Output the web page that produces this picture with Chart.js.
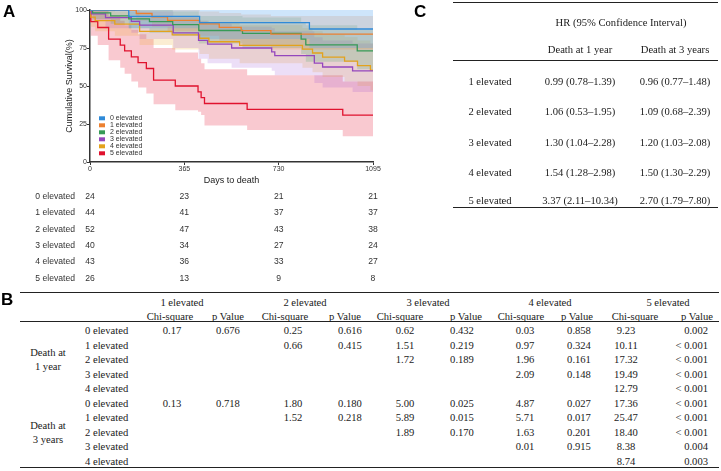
<!DOCTYPE html>
<html>
<head>
<meta charset="utf-8">
<script src="https://cdn.jsdelivr.net/npm/chart.js@4.4.1/dist/chart.umd.min.js"></script>
<style>
body{margin:0;background:#fff;width:721px;height:471px;overflow:hidden;position:relative;font-family:'Liberation Serif','Times New Roman',serif;color:#1a1a1a}
#km{position:absolute;left:0;top:0}
.t{position:absolute;font-size:10.6px;white-space:nowrap;transform:translate(-50%,-50%);line-height:1}
.t.l{transform:translate(0,-50%)}
.t.r{transform:translate(-100%,-50%)}
.rule{position:absolute;height:0;border-top:1.5px solid #222}
.panel{position:absolute;font-family:'Liberation Sans',Arial,sans-serif;font-weight:bold;font-size:17px;line-height:1;color:#000}
</style>
</head>
<body>
<canvas id="km" width="440" height="290"></canvas>
<div class="panel" style="left:3px;top:3px">A</div>
<div class="panel" style="left:1px;top:291px">B</div>
<div class="panel" style="left:414px;top:3px">C</div>
<div id="tables"></div>
<script>
// ---- panel A data ----
const groups = ['0 elevated', '1 elevated', '2 elevated', '3 elevated', '4 elevated', '5 elevated'];

const days0 = [0, 150, 424, 849, 1095];
const surv0 = [100, 95.8, 91.7, 87.5, 87.5];
const lo0 = [100, 88, 81, 75, 75];
const hi0 = [100, 100, 100, 100, 100];

const days1 = [0, 179, 240, 300, 424, 500, 585, 700, 1095];
const surv1 = [100, 97.7, 95.5, 93.2, 90.9, 88.6, 86.4, 84.1, 84.1];
const lo1 = [100, 93, 89, 86, 83, 80, 77, 74, 74];
const hi1 = [100, 100, 100, 100, 99, 98, 97, 96, 96];

const days2 = [0, 10, 80, 150, 230, 320, 421, 590, 817, 835, 1034, 1095];
const surv2 = [100, 98.1, 96.2, 94.2, 92.3, 90.4, 86.5, 84.6, 80.8, 77.0, 73.1, 73.1];
const lo2 = [100, 94, 91, 88, 85, 83, 78, 75, 71, 66, 61, 61];
const hi2 = [100, 100, 100, 100, 100, 99, 96, 95, 92, 90, 87, 87];

const days3 = [0, 5, 60, 160, 192, 322, 420, 455, 548, 703, 715, 868, 900, 1016, 1095];
const surv3 = [100, 97.5, 95, 92.5, 90, 85, 80, 77.5, 75, 72.5, 70, 65, 62.5, 60, 60];
const lo3 = [100, 93, 88, 85, 81, 75, 68, 65, 62, 60, 57, 52, 49, 46, 46];
const hi3 = [100, 100, 100, 100, 99, 96, 93, 91, 89, 88, 86, 82, 80, 78, 78];

const days4 = [0, 3, 20, 96, 192, 318, 424, 460, 579, 822, 861, 900, 985, 1035, 1085, 1095];
const surv4 = [100, 95.3, 93.0, 90.7, 86.0, 83.7, 81.4, 79.1, 76.7, 74.3, 71.7, 69.0, 66.3, 63.4, 60.5, 60.5];
const lo4 = [100, 89, 86, 83, 77, 74, 71, 68, 65, 62, 59, 56, 53, 50, 47, 47];
const hi4 = [100, 100, 100, 99, 96, 95, 93, 92, 90, 88, 86, 84, 82, 80, 78, 78];

const days5 = [0, 3, 30, 72, 117, 134, 160, 186, 218, 246, 330, 418, 430, 443, 608, 978, 1095];
const surv5 = [100, 92.3, 88.5, 80.8, 76.9, 73.1, 69.2, 65.4, 61.5, 53.8, 50.0, 46.2, 42.3, 38.5, 34.6, 30.8, 30.8];
const lo5 = [100, 83, 77, 67, 62, 58, 53, 49, 45, 38, 34, 33, 31, 24, 21, 17, 17];
const hi5 = [100, 100, 100, 96, 93, 90, 87, 84, 81, 75, 72, 68, 65, 61, 57, 53, 53];

const xTicks = [0, 365, 730, 1095];
const yTicks = [0, 25, 50, 75, 100];

const riskDays = [0, 365, 730, 1095];
const risk0 = [24, 23, 21, 21];
const risk1 = [44, 41, 37, 37];
const risk2 = [52, 47, 43, 38];
const risk3 = [40, 34, 27, 24];
const risk4 = [43, 36, 33, 27];
const risk5 = [26, 13, 9, 8];

// ---- panel B data ----
const compareGroups = ['1 elevated', '2 elevated', '3 elevated', '4 elevated', '5 elevated'];
const refRows = ['0 elevated', '1 elevated', '2 elevated', '3 elevated', '4 elevated'];
const chi1y = [
  ['0.17', '0.25', '0.62', '0.03', '9.23'],
  ['', '0.66', '1.51', '0.97', '10.11'],
  ['', '', '1.72', '1.96', '17.32'],
  ['', '', '', '2.09', '19.49'],
  ['', '', '', '', '12.79']
];
const p1y = [
  ['0.676', '0.616', '0.432', '0.858', '0.002'],
  ['', '0.415', '0.219', '0.324', '< 0.001'],
  ['', '', '0.189', '0.161', '< 0.001'],
  ['', '', '', '0.148', '< 0.001'],
  ['', '', '', '', '< 0.001']
];
const chi3y = [
  ['0.13', '1.80', '5.00', '4.87', '17.36'],
  ['', '1.52', '5.89', '5.71', '25.47'],
  ['', '', '1.89', '1.63', '18.40'],
  ['', '', '', '0.01', '8.38'],
  ['', '', '', '', '8.74']
];
const p3y = [
  ['0.718', '0.180', '0.025', '0.027', '< 0.001'],
  ['', '0.218', '0.015', '0.017', '< 0.001'],
  ['', '', '0.170', '0.201', '< 0.001'],
  ['', '', '', '0.915', '0.004'],
  ['', '', '', '', '0.003']
];

// ---- panel C data ----
const hrRows = ['1 elevated', '2 elevated', '3 elevated', '4 elevated', '5 elevated'];
const hr1y = ['0.99 (0.78\u20131.39)', '1.06 (0.53\u20131.95)', '1.30 (1.04\u20132.28)', '1.54 (1.28\u20132.98)', '3.37 (2.11\u201310.34)'];
const hr3y = ['0.96 (0.77\u20131.48)', '1.09 (0.68\u20132.39)', '1.20 (1.03\u20132.08)', '1.50 (1.30\u20132.29)', '2.70 (1.79\u20137.80)'];

// ---- KM chart ----
const allDays = [days0, days1, days2, days3, days4, days5];
const allSurv = [surv0, surv1, surv2, surv3, surv4, surv5];
const allLo = [lo0, lo1, lo2, lo3, lo4, lo5];
const allHi = [hi0, hi1, hi2, hi3, hi4, hi5];
const riskRows = [risk0, risk1, risk2, risk3, risk4, risk5];

const lineColors = ['#2f8ad8', '#ec8030', '#379a57', '#9446bd', '#e3a21c', '#e0122e'];
const bandColors = ['rgba(80,160,240,0.28)', 'rgba(240,130,50,0.2)', 'rgba(50,160,90,0.2)',
                    'rgba(150,70,210,0.18)', 'rgba(235,165,30,0.2)', 'rgba(232,30,60,0.24)'];

function pts(d, v) {
  return d.map((t, i) => ({x: t, y: v[i]}));
}

let datasets = [];
groups.forEach((g, i) => {
  datasets.push({
    label: g, data: pts(allDays[i], allSurv[i]),
    borderColor: lineColors[i], borderWidth: 1.3,
    stepped: 'before', pointRadius: 0, fill: false
  });
});
groups.forEach((g, i) => {
  datasets.push({
    label: g + ' upper', data: pts(allDays[i], allHi[i]),
    borderWidth: 0, borderColor: 'rgba(0,0,0,0)', backgroundColor: bandColors[i],
    stepped: 'before', pointRadius: 0, fill: '+1'
  });
  datasets.push({
    label: g + ' lower', data: pts(allDays[i], allLo[i]),
    borderWidth: 0, borderColor: 'rgba(0,0,0,0)',
    stepped: 'before', pointRadius: 0, fill: false
  });
});

const kmExtras = {
  id: 'kmExtras',
  afterDraw(chart) {
    const ctx = chart.ctx;
    const a = chart.chartArea;
    const x = chart.scales.x;
    ctx.save();
    ctx.textBaseline = 'middle';
    ctx.font = '7px "Liberation Sans", Arial, sans-serif';
    groups.forEach((g, i) => {
      let y = a.bottom - 43.7 + i * 7;
      ctx.fillStyle = lineColors[i];
      ctx.fillRect(a.left + 9, y - 2, 6, 4);
      ctx.fillStyle = '#333';
      ctx.textAlign = 'left';
      ctx.fillText(g, a.left + 20, y);
    });
    ctx.font = '8.6px "Liberation Sans", Arial, sans-serif';
    ctx.fillStyle = '#333';
    riskRows.forEach((r, i) => {
      let y = a.bottom + 34.7 + i * 16.3;
      ctx.textAlign = 'right';
      ctx.fillText(groups[i], 75, y);
      ctx.textAlign = 'center';
      riskDays.forEach((d, j) => ctx.fillText(String(r[j]), x.getPixelForValue(d), y));
    });
    ctx.restore();
  }
};

Chart.defaults.font.family = '"Liberation Sans", Arial, sans-serif';

new Chart(document.getElementById('km').getContext('2d'), {
  type: 'line',
  data: {datasets: datasets},
  plugins: [kmExtras],
  options: {
    responsive: false,
    animation: false,
    events: [],
    layout: {padding: {left: 60, right: 67, top: 10, bottom: 100}},
    plugins: {legend: {display: false}, tooltip: {enabled: false}},
    scales: {
      x: {
        type: 'linear', min: 0, max: 1095,
        afterBuildTicks: s => { s.ticks = xTicks.map(v => ({value: v})); },
        afterFit: s => { s.height = 28; },
        grid: {display: true, drawOnChartArea: false, tickLength: 3, color: '#333'},
        border: {color: '#333', width: 1.5},
        ticks: {font: {size: 7}, color: '#333', padding: 0, maxRotation: 0, autoSkip: false,
                callback: v => String(v)},
        title: {display: true, text: 'Days to death', font: {size: 9}, color: '#222', padding: {top: 0, bottom: 4}}
      },
      y: {
        min: 0, max: 100,
        afterBuildTicks: s => { s.ticks = yTicks.map(v => ({value: v})); },
        afterFit: s => { s.width = 30; },
        grid: {display: true, drawOnChartArea: false, tickLength: 3, color: '#333'},
        border: {color: '#333', width: 1.5},
        ticks: {font: {size: 7}, color: '#333', padding: 0, callback: v => String(v)},
        title: {display: true, text: 'Cumulative Survival(%)', font: {size: 9}, color: '#222', padding: {top: 4, bottom: 0}}
      }
    }
  }
});

// ---- tables B and C ----
const box = document.getElementById('tables');
function txt(s, x, y, cls) {
  if (!s) return;
  let d = document.createElement('div');
  d.className = 't' + (cls ? ' ' + cls : '');
  d.style.left = x + 'px';
  d.style.top = y + 'px';
  d.textContent = s;
  box.appendChild(d);
}
function rule(x1, x2, y) {
  let d = document.createElement('div');
  d.className = 'rule';
  d.style.left = x1 + 'px';
  d.style.width = (x2 - x1) + 'px';
  d.style.top = y + 'px';
  box.appendChild(d);
}

// C
rule(453, 718, 2);
rule(453, 718, 60);
rule(453, 718, 207);
txt('HR  (95% Confidence Interval)', 621, 23);
txt('Death at 1 year', 580, 50);
txt('Death at 3 years', 675, 50);
const hrY = [82, 112, 143, 173, 201];
hrRows.forEach((r, i) => {
  txt(r, 490, hrY[i]);
  txt(hr1y[i], 580, hrY[i]);
  txt(hr3y[i], 675, hrY[i]);
});

// B
const headX = [182, 305, 428, 550, 668];
const chiHeadX = [170, 285, 400, 521, 635];
const pHeadX = [228, 345, 466, 577, 697];
const chiX = [172, 293, 405, 525, 626];
const pX = [228, 350, 462, 579, 697];
rule(20, 719, 292);
rule(20, 719, 321);
rule(20, 719, 467);
compareGroups.forEach((g, j) => {
  txt(g, headX[j], 303);
  txt('Chi-square', chiHeadX[j], 317);
  txt('p Value', pHeadX[j], 317);
});
const rowY0 = 331, rowStep = 14.55;
[[chi1y, p1y], [chi3y, p3y]].forEach((blk, b) => {
  refRows.forEach((r, i) => {
    let y = rowY0 + (b * 5 + i) * rowStep;
    txt(r, 85, y, 'l');
    compareGroups.forEach((g, j) => {
      txt(blk[0][i][j], chiX[j], y);
      if (j === 4) txt(blk[1][i][j], 708, y, 'r');
      else txt(blk[1][i][j], pX[j], y);
    });
  });
});
txt('Death at', 48, 353);
txt('1 year', 48, 367);
txt('Death at', 48, 426);
txt('3 years', 48, 440);
</script>
</body>
</html>
